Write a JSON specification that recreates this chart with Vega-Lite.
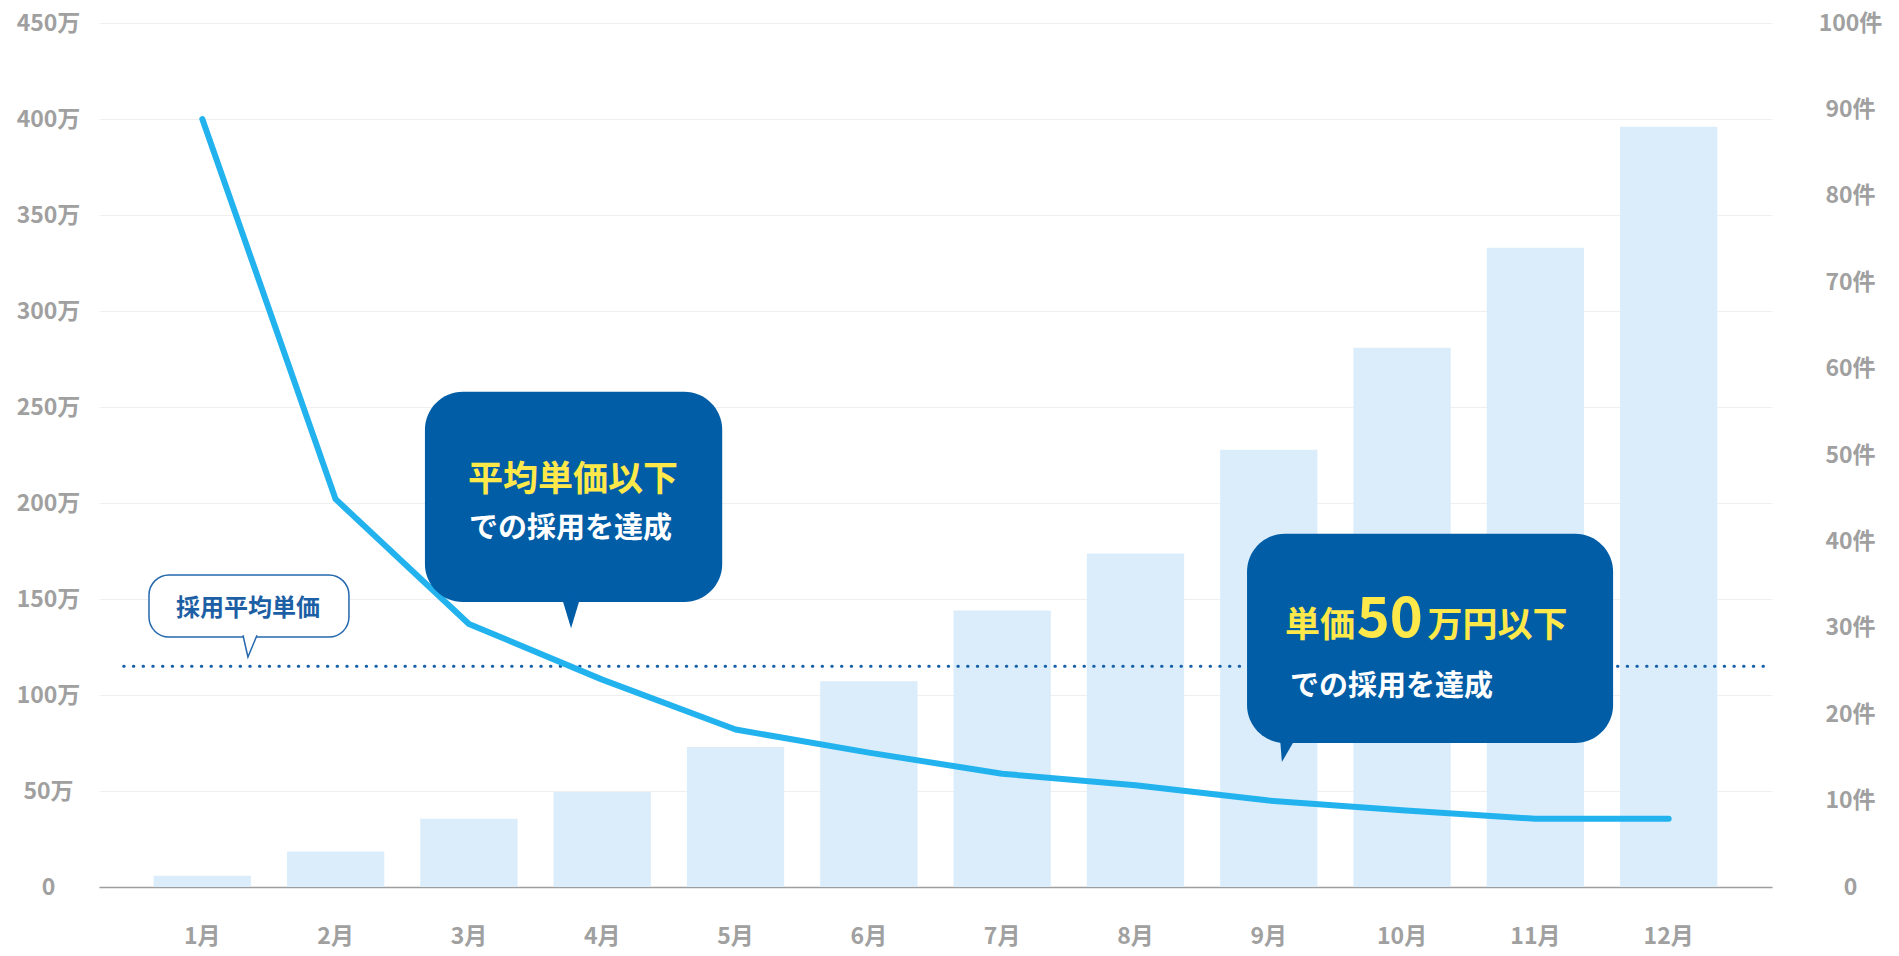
{
  "$schema": "https://vega.github.io/schema/vega-lite/v6.json",
  "width": 1673,
  "height": 864,
  "autosize": {"type": "none"},
  "padding": {"left": 99, "top": 23, "right": 127, "bottom": 69},
  "background": "white",
  "config": {
    "view": {"stroke": null},
    "font": "Noto Sans CJK JP",
    "axis": {
      "labelFont": "Noto Sans CJK JP",
      "labelFontWeight": "bold",
      "labelColor": "#a0a0a0",
      "labelFontSize": 23,
      "ticks": false,
      "title": null
    },
    "text": {"font": "Noto Sans CJK JP", "fontWeight": "bold"}
  },
  "datasets": {
    "monthly": [
      {"month": "1月", "m": 1, "count": 1.3, "price": 400},
      {"month": "2月", "m": 2, "count": 4.1, "price": 202},
      {"month": "3月", "m": 3, "count": 7.9, "price": 137},
      {"month": "4月", "m": 4, "count": 11.0, "price": 108},
      {"month": "5月", "m": 5, "count": 16.2, "price": 82},
      {"month": "6月", "m": 6, "count": 23.8, "price": 70},
      {"month": "7月", "m": 7, "count": 32.0, "price": 59},
      {"month": "8月", "m": 8, "count": 38.6, "price": 53},
      {"month": "9月", "m": 9, "count": 50.6, "price": 45},
      {"month": "10月", "m": 10, "count": 62.4, "price": 40},
      {"month": "11月", "m": 11, "count": 74.0, "price": 35.5},
      {"month": "12月", "m": 12, "count": 88.0, "price": 35.5}
    ]
  },
  "resolve": {"scale": {"x": "independent", "y": "independent"}},
  "layer": [
    {
      "data": {"name": "monthly"},
      "mark": {"type": "bar", "color": "#dbedfb"},
      "encoding": {
        "x": {
          "field": "month",
          "type": "ordinal",
          "sort": null,
          "scale": {"paddingInner": 0.27, "paddingOuter": 0.41},
          "axis": {
            "labelAngle": 0,
            "labelPadding": 38,
            "domainColor": "#9e9e9e",
            "domainWidth": 1.5,
            "grid": false
          }
        },
        "y": {
          "field": "count",
          "type": "quantitative",
          "scale": {"domain": [0, 100], "nice": false},
          "axis": {
            "orient": "right",
            "grid": false,
            "domain": false,
            "values": [0, 10, 20, 30, 40, 50, 60, 70, 80, 90, 100],
            "labelExpr": "datum.value == 0 ? '0' : datum.value + '件'",
            "labelAlign": "center",
            "labelPadding": 78
          }
        }
      }
    },
    {
      "data": {"values": [{"x": 0.41, "x2": 12.775, "y": 115}]},
      "mark": {"type": "rule", "color": "#1660a8", "strokeWidth": 3, "strokeDash": [0.5, 9.2], "strokeCap": "round"},
      "encoding": {
        "x": {"field": "x", "type": "quantitative", "scale": {"domain": [0.225, 12.775], "nice": false, "zero": false}, "axis": null},
        "x2": {"field": "x2"},
        "y": {"field": "y", "type": "quantitative", "scale": {"domain": [0, 450], "nice": false}, "axis": null}
      }
    },
    {
      "data": {"name": "monthly"},
      "mark": {"type": "line", "color": "#22b3ef", "strokeWidth": 6, "strokeCap": "round", "strokeJoin": "round"},
      "encoding": {
        "x": {"field": "m", "type": "quantitative", "scale": {"domain": [0.225, 12.775], "nice": false, "zero": false}, "axis": null},
        "y": {
          "field": "price",
          "type": "quantitative",
          "scale": {"domain": [0, 450], "nice": false},
          "axis": {
            "orient": "left",
            "values": [0, 50, 100, 150, 200, 250, 300, 350, 400, 450],
            "grid": true,
            "gridColor": "#efefef",
            "gridWidth": 1,
            "domain": false,
            "labelExpr": "datum.value == 0 ? '0' : datum.value + '万'",
            "labelAlign": "center",
            "labelPadding": 51
          }
        }
      }
    },
    {
      "data": {"values": [{"x": 0.6, "x2": 2.1, "y": 162.5, "y2": 130.2}]},
      "mark": {"type": "rect", "fill": "white", "stroke": "#2468ad", "strokeWidth": 1.5, "cornerRadius": 20},
      "encoding": {
        "x": {"field": "x", "type": "quantitative", "scale": {"domain": [0.225, 12.775], "nice": false, "zero": false}, "axis": null},
        "x2": {"field": "x2"},
        "y": {"field": "y", "type": "quantitative", "scale": {"domain": [0, 450], "nice": false}, "axis": null},
        "y2": {"field": "y2"}
      }
    },
    {
      "data": {"values": [{"x": 1.305, "y": 130.2}]},
      "mark": {"type": "point", "shape": "M 0 -0.25 L 0.71 2.86 L 2 -0.25", "size": 196, "filled": true, "fill": "white", "stroke": "#2468ad", "strokeWidth": 1.5, "opacity": 1},
      "encoding": {
        "x": {"field": "x", "type": "quantitative", "scale": {"domain": [0.225, 12.775], "nice": false, "zero": false}, "axis": null},
        "y": {"field": "y", "type": "quantitative", "scale": {"domain": [0, 450], "nice": false}, "axis": null}
      }
    },
    {
      "data": {"values": [
        {"x": 2.67, "x2": 4.9, "y": 258, "y2": 148.4},
        {"x": 8.837, "x2": 11.583, "y": 184, "y2": 75}
      ]},
      "mark": {"type": "rect", "color": "#005da6", "cornerRadius": 38},
      "encoding": {
        "x": {"field": "x", "type": "quantitative", "scale": {"domain": [0.225, 12.775], "nice": false, "zero": false}, "axis": null},
        "x2": {"field": "x2"},
        "y": {"field": "y", "type": "quantitative", "scale": {"domain": [0, 450], "nice": false}, "axis": null},
        "y2": {"field": "y2"}
      }
    },
    {
      "data": {"values": [{"x": 3.766, "y": 148.4}]},
      "mark": {"type": "point", "shape": "M -1 -0.4 L 1 -0.4 L 0 2.9 Z", "size": 324, "filled": true, "color": "#005da6", "opacity": 1},
      "encoding": {
        "x": {"field": "x", "type": "quantitative", "scale": {"domain": [0.225, 12.775], "nice": false, "zero": false}, "axis": null},
        "y": {"field": "y", "type": "quantitative", "scale": {"domain": [0, 450], "nice": false}, "axis": null}
      }
    },
    {
      "data": {"values": [{"x": 9.085, "y": 75}]},
      "mark": {"type": "point", "shape": "M 0 -0.4 L 1.65 -0.4 L 0.2 2.1 Z", "size": 324, "filled": true, "color": "#005da6", "opacity": 1},
      "encoding": {
        "x": {"field": "x", "type": "quantitative", "scale": {"domain": [0.225, 12.775], "nice": false, "zero": false}, "axis": null},
        "y": {"field": "y", "type": "quantitative", "scale": {"domain": [0, 450], "nice": false}, "axis": null}
      }
    },
    {
      "data": {"values": [{"x": 1.343, "y": 144.8, "t": "採用平均単価"}]},
      "mark": {"type": "text", "color": "#1d5fa5", "fontSize": 24, "align": "center", "baseline": "middle"},
      "encoding": {
        "x": {"field": "x", "type": "quantitative", "scale": {"domain": [0.225, 12.775], "nice": false, "zero": false}, "axis": null},
        "y": {"field": "y", "type": "quantitative", "scale": {"domain": [0, 450], "nice": false}, "axis": null},
        "text": {"field": "t"}
      }
    },
    {
      "data": {"values": [{"x": 3.781, "y": 212.1, "t": "平均単価以下"}]},
      "mark": {"type": "text", "color": "#ffe849", "fontSize": 35, "align": "center", "baseline": "middle"},
      "encoding": {
        "x": {"field": "x", "type": "quantitative", "scale": {"domain": [0.225, 12.775], "nice": false, "zero": false}, "axis": null},
        "y": {"field": "y", "type": "quantitative", "scale": {"domain": [0, 450], "nice": false}, "axis": null},
        "text": {"field": "t"}
      }
    },
    {
      "data": {"values": [
        {"x": 3.762, "y": 186.4, "t": "での採用を達成"},
        {"x": 9.921, "y": 104.1, "t": "での採用を達成"}
      ]},
      "mark": {"type": "text", "color": "white", "fontSize": 29, "align": "center", "baseline": "middle"},
      "encoding": {
        "x": {"field": "x", "type": "quantitative", "scale": {"domain": [0.225, 12.775], "nice": false, "zero": false}, "axis": null},
        "y": {"field": "y", "type": "quantitative", "scale": {"domain": [0, 450], "nice": false}, "axis": null},
        "text": {"field": "t"}
      }
    },
    {
      "data": {"values": [
        {"x": 9.122, "y": 130.2, "t": "単価"},
        {"x": 10.19, "y": 130.2, "t": "万円以下"}
      ]},
      "mark": {"type": "text", "color": "#ffe849", "fontSize": 35, "align": "left", "baseline": "alphabetic"},
      "encoding": {
        "x": {"field": "x", "type": "quantitative", "scale": {"domain": [0.225, 12.775], "nice": false, "zero": false}, "axis": null},
        "y": {"field": "y", "type": "quantitative", "scale": {"domain": [0, 450], "nice": false}, "axis": null},
        "text": {"field": "t"}
      }
    },
    {
      "data": {"values": [{"x": 9.66, "y": 130.2, "t": "50"}]},
      "mark": {"type": "text", "color": "#ffe849", "fontSize": 56, "align": "left", "baseline": "alphabetic"},
      "encoding": {
        "x": {"field": "x", "type": "quantitative", "scale": {"domain": [0.225, 12.775], "nice": false, "zero": false}, "axis": null},
        "y": {"field": "y", "type": "quantitative", "scale": {"domain": [0, 450], "nice": false}, "axis": null},
        "text": {"field": "t"}
      }
    }
  ]
}
